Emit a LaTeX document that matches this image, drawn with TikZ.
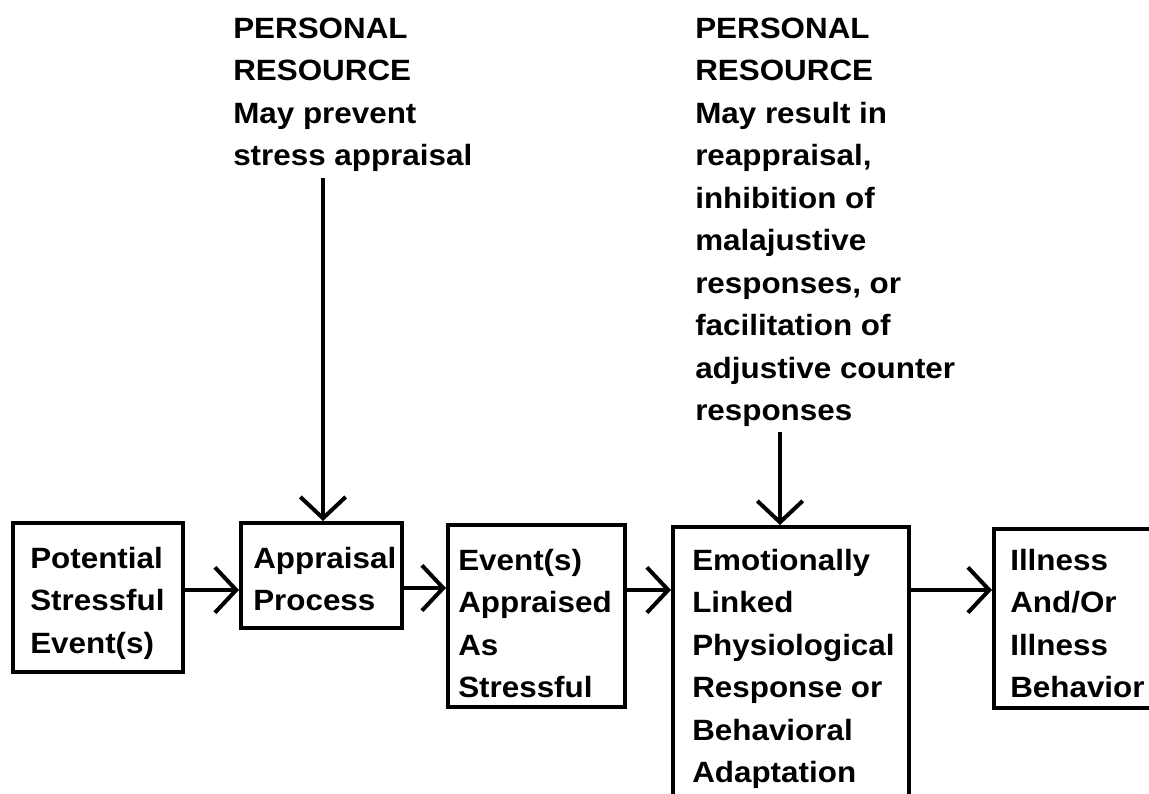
\documentclass[tikz,border=0pt]{standalone}
\usepackage{fontspec}
\setmainfont{Liberation Sans}[FakeStretch=1.07]
\usetikzlibrary{arrows.meta,fit}
\newcommand{\stk}[1]{\begin{tabular}[t]{@{}l@{}}#1\end{tabular}}
\begin{document}
\begin{tikzpicture}[x=0.75pt,y=-0.75pt,
  box/.style={draw, line width=3pt, inner sep=0pt},
  txt/.style={anchor=base west, inner sep=0pt, font=\fontsize{22}{31.9}\selectfont\bfseries},
  arr/.style={line width=3pt, -{Straight Barb[length=16pt,width=34pt]}}]
\useasboundingbox (0,0) rectangle (1149,793);
\begin{scope}
\clip (0,0) rectangle (1149,793);
\node[box, fit={(13,523)(183,672)}] (b1) {};
\node[box, fit={(241,523)(402,628)}] (b2) {};
\node[box, fit={(448,525)(625,707)}] (b3) {};
\node[box, fit={(673,527)(909,830)}] (b4) {};
\node[box, fit={(994,529)(1175,708)}] (b5) {};
\end{scope}
\node[txt] (t1) at (30,568) {\stk{Potential\\Stressful\\Event(s)}};
\node[txt] (t2) at (253,568) {\stk{Appraisal\\Process}};
\node[txt] (t3) at (458,570) {\stk{Event(s)\\Appraised\\As\\Stressful}};
\node[txt] (t4) at (692,570) {\stk{Emotionally\\Linked\\Physiological\\Response or\\Behavioral\\Adaptation}};
\node[txt] (t5) at (1010,570) {\stk{Illness\\And/Or\\Illness\\Behavior}};
\node[txt] (p1) at (233,38) {\stk{PERSONAL\\RESOURCE\\May prevent\\stress appraisal}};
\node[txt] (p2) at (695,38) {\stk{PERSONAL\\RESOURCE\\May result in\\reappraisal,\\inhibition of\\malajustive\\responses, or\\facilitation of\\adjustive counter\\responses}};
\coordinate (r1) at (0,590);
\coordinate (r2) at (0,588);
\draw[arr] (b1.east |- r1) -- (b2.west |- r1);
\draw[arr] (b2.east |- r2) -- (b3.west |- r2);
\draw[arr] (b3.east |- r1) -- (b4.west |- r1);
\draw[arr] (b4.east |- r1) -- (b5.west |- r1);
\coordinate (v1) at (323,178);
\coordinate (v2) at (780,432);
\draw[arr] (v1) -- (v1 |- b2.north);
\draw[arr] (v2) -- (v2 |- b4.north);
\end{tikzpicture}
\end{document}
